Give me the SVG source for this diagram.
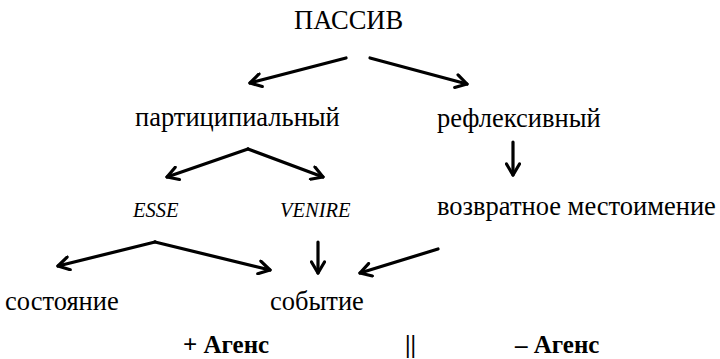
<svg xmlns="http://www.w3.org/2000/svg" width="720" height="359" viewBox="0 0 720 359">
<style>
text{font-family:"Liberation Serif","Times New Roman","DejaVu Serif",serif;fill:#000;font-size:26.5px}
.it{font-style:italic;font-size:20.5px}
.b{font-weight:bold;font-size:25px}
.c line{stroke:#000;stroke-width:3.2;fill:none;stroke-linecap:round}
</style>
<defs>
<marker id="ah" viewBox="0 0 16 16" refX="14" refY="8" markerWidth="16" markerHeight="16" markerUnits="userSpaceOnUse" orient="auto">
<path d="M3,1.5 L14,8 L3,14.5" fill="none" stroke="#000" stroke-width="3.2" stroke-linecap="round" stroke-linejoin="round"/>
</marker>
</defs>
<rect width="720" height="359" fill="#fff"/>
<g id="passiv"><text x="294" y="29">ПАССИВ</text></g>
<g id="partic"><text x="135" y="126">партиципиальный</text></g>
<g id="reflex"><text x="437" y="127">рефлексивный</text></g>
<g id="esse"><text class="it" x="133" y="217">ESSE</text></g>
<g id="venire"><text class="it" x="280" y="217">VENIRE</text></g>
<g id="vozvr"><text x="437" y="215">возвратное местоимение</text></g>
<g id="sostoyanie"><text x="5" y="310">состояние</text></g>
<g id="sobytie"><text x="270" y="310">событие</text></g>
<g id="agens-plus"><text class="b" x="183" y="353">+ Агенс</text></g>
<g id="sep"><text class="b" x="405" y="353">||</text></g>
<g id="agens-minus"><text class="b" x="515" y="353">– Агенс</text></g>
<g class="c" id="connectors">
<line x1="346" y1="58" x2="250" y2="83" marker-end="url(#ah)"/>
<line x1="370" y1="58" x2="467" y2="84" marker-end="url(#ah)"/>
<line x1="513" y1="142" x2="513" y2="175" marker-end="url(#ah)"/>
<line x1="248" y1="149" x2="167" y2="177" marker-end="url(#ah)"/>
<line x1="248" y1="149" x2="323" y2="177" marker-end="url(#ah)"/>
<line x1="155" y1="242" x2="58" y2="266" marker-end="url(#ah)"/>
<line x1="155" y1="242" x2="270" y2="270" marker-end="url(#ah)"/>
<line x1="318" y1="242" x2="318" y2="273" marker-end="url(#ah)"/>
<line x1="438" y1="249" x2="360" y2="273" marker-end="url(#ah)"/>
</g>
</svg>
